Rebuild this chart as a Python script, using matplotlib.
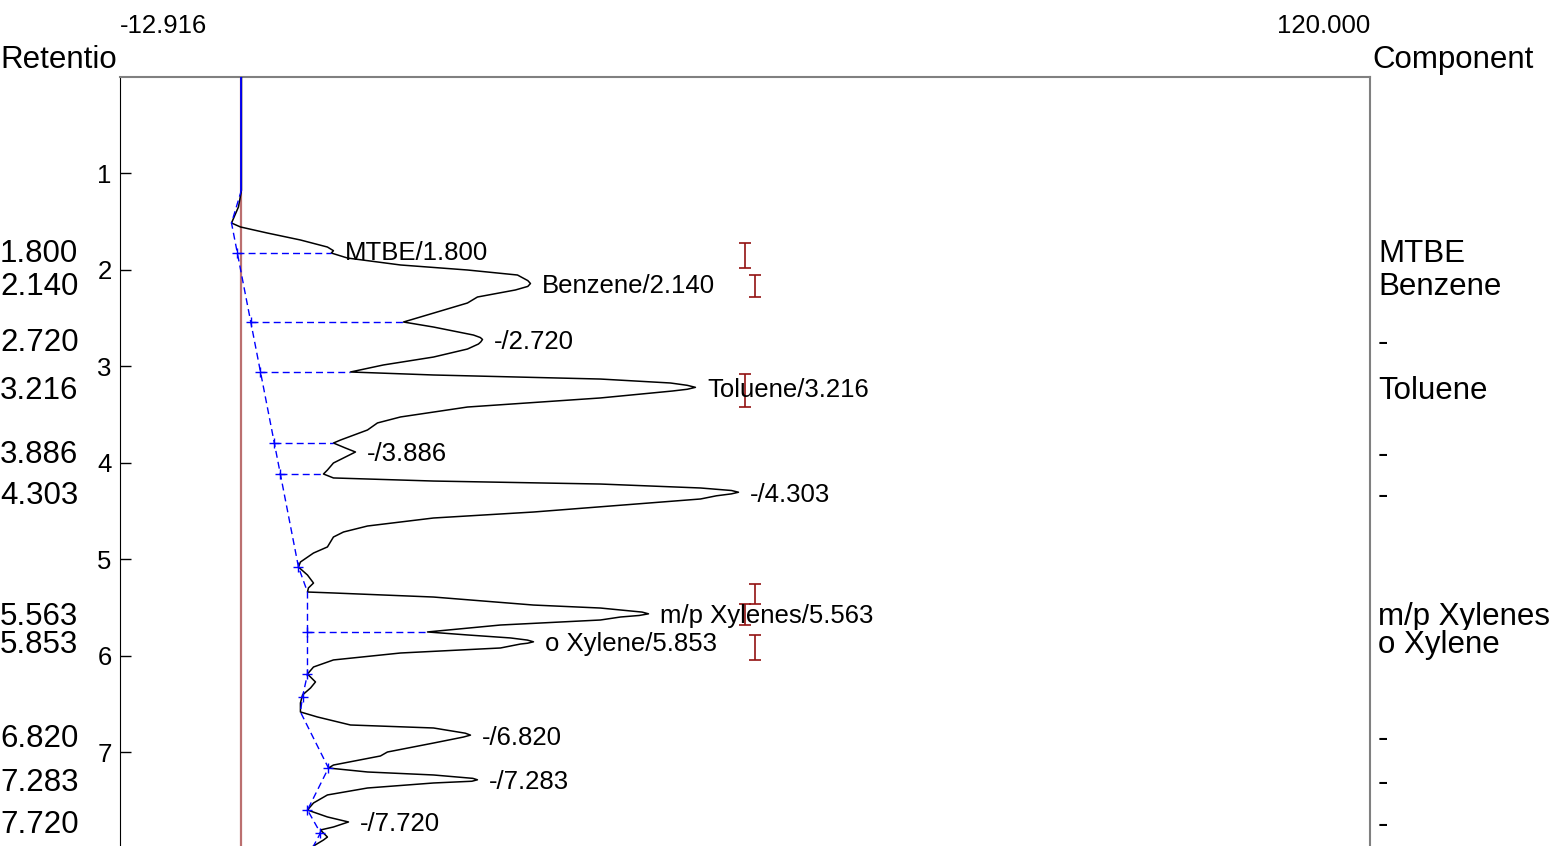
import matplotlib
matplotlib.use("Agg")
import matplotlib.pyplot as plt
import numpy as np
from matplotlib.transforms import blended_transform_factory

plt.rcParams['font.family'] = ['Liberation Sans', 'DejaVu Sans']

# signal range and time window
sig_min, sig_max = -12.916, 120.000
t_top, t_bottom = 0.0, 7.969

# identified peaks
peak_names = ["MTBE", "Benzene", "-", "Toluene", "-", "-",
              "m/p Xylenes", "o Xylene", "-", "-", "-"]
peak_rt = [1.800, 2.140, 2.720, 3.216, 3.886, 4.303, 5.563, 5.853, 6.820, 7.283, 7.720]
peak_height = [9.78, 30.73, 25.63, 48.27, 12.12, 52.85, 43.28, 31.05, 24.35, 25.09, 11.38]

# detector trace between the apexes
trace_t = [0.000, 1.171, 1.202, 1.347, 1.513, 1.554, 1.617, 1.689, 1.762, 1.824,
           1.876, 1.948, 2.000, 2.052, 2.110, 2.170, 2.207, 2.280, 2.342, 2.446,
           2.539, 2.591, 2.674, 2.700, 2.745, 2.767, 2.819, 2.902, 2.984, 3.057,
           3.088, 3.130, 3.171, 3.195, 3.236, 3.254, 3.326, 3.420, 3.523, 3.585,
           3.658, 3.762, 3.793, 3.845, 3.948, 4.000, 4.073, 4.114, 4.155, 4.187,
           4.218, 4.259, 4.285, 4.320, 4.340, 4.373, 4.508, 4.570, 4.653, 4.715,
           4.767, 4.870, 4.933, 5.026, 5.078, 5.161, 5.244, 5.295, 5.337, 5.347,
           5.389, 5.472, 5.503, 5.545, 5.580, 5.596, 5.627, 5.679, 5.751, 5.782,
           5.813, 5.835, 5.868, 5.876, 5.917, 5.969, 6.041, 6.114, 6.187, 6.269,
           6.332, 6.404, 6.487, 6.580, 6.632, 6.715, 6.746, 6.800, 6.840, 6.902,
           6.995, 7.036, 7.130, 7.161, 7.202, 7.233, 7.268, 7.298, 7.316, 7.368,
           7.440, 7.523, 7.596, 7.668, 7.772, 7.803, 7.876, 7.907, 7.969]
trace_s = [0.00, 0.00, -0.05, -0.32, -1.06, -0.11, 2.76, 6.27, 9.14, 9.55,
           11.27, 16.91, 24.03, 29.35, 30.45, 30.45, 29.13, 25.09, 24.03, 20.42,
           17.23, 20.42, 24.67, 25.40, 25.45, 25.20, 24.03, 20.42, 15.10, 11.59,
           20.42, 38.17, 45.62, 47.40, 47.40, 45.83, 38.17, 24.03, 16.91, 14.46,
           13.40, 10.53, 9.78, 11.06, 10.85, 9.78, 9.14, 8.72, 9.78, 20.42,
           38.17, 48.81, 52.10, 52.10, 50.50, 48.81, 31.05, 20.42, 13.40, 10.85,
           9.78, 9.14, 7.66, 6.27, 6.06, 7.02, 7.66, 7.12, 7.02, 9.78,
           20.42, 31.05, 38.17, 42.60, 42.30, 40.30, 38.17, 27.54, 19.78, 24.03,
           28.60, 30.40, 30.40, 29.67, 27.54, 16.91, 9.78, 7.66, 7.02, 7.87,
           7.34, 6.49, 6.27, 6.27, 8.08, 11.59, 20.42, 23.80, 23.60, 20.42,
           15.52, 14.78, 9.78, 9.25, 13.40, 20.42, 24.60, 24.50, 20.42, 13.40,
           9.14, 7.66, 7.02, 9.14, 9.78, 8.40, 9.14, 8.72, 7.66]

# integration baseline knots
base_t = [1.171, 1.513, 5.078, 5.337, 6.187, 6.425, 6.580, 7.161, 7.596, 7.834, 7.969]
base_s = [0.00, -1.06, 6.06, 7.02, 7.02, 6.49, 6.27, 9.25, 7.02, 8.40, 7.66]
mark_t = [5.078, 6.187, 6.425, 7.161, 7.596, 7.834]

# valleys that are dropped onto the baseline
drop_t = [1.824, 2.539, 3.057, 3.793, 4.114, 5.751]
drop_s = [9.55, 17.23, 11.59, 9.78, 8.72, 19.78]

# expected retention windows
win_t = [1.850, 2.166, 3.249, 5.358, 5.570, 5.912]
win_half = [0.130, 0.114, 0.171, 0.104, 0.109, 0.130]
win_s = [53.49, 54.65, 53.59, 54.65, 53.59, 54.65]

# merge apexes into the trace
t_all = np.concatenate([trace_t, peak_rt])
s_all = np.concatenate([trace_s, peak_height])
order = np.argsort(t_all)
t_all, s_all = t_all[order], s_all[order]

W, H = 1557, 846
fig = plt.figure(figsize=(W / 100, H / 100), dpi=100)
ax = fig.add_axes([120 / W, 0, 1250 / W, 769 / H])
ax.set_xlim(sig_min, sig_max)
ax.set_ylim(t_bottom, t_top)

ax.axvline(0, color='#bb6f6f', lw=1.6, zorder=1)
ax.plot(s_all, t_all, color='black', lw=1.1, zorder=3)

# baseline and drop lines
ax.plot([0, 0], [t_top, base_t[0]], color='blue', lw=1.3, zorder=4)
ax.plot(base_s, base_t, color='blue', lw=1.0, ls=(0, (5, 3)), zorder=4)
drop_base = np.interp(drop_t, base_t, base_s)
ax.hlines(drop_t, drop_base, drop_s, colors='blue', lw=1.0, linestyles=(0, (5, 3)), zorder=4)
mk_t = np.concatenate([drop_t, mark_t])
ax.plot(np.interp(mk_t, base_t, base_s), mk_t, ls='none', marker='+', ms=7,
        mew=1.0, color='blue', zorder=5)

ax.errorbar(win_s, win_t, yerr=win_half, fmt='none', ecolor='#921212',
            elinewidth=1.2, capsize=4.3, capthick=1.2, zorder=2)

for name, rt, h in zip(peak_names, peak_rt, peak_height):
    ax.annotate(f"{name}/{rt:.3f}", xy=(h, rt), xytext=(8.5, 0),
                textcoords='offset points', va='center_baseline', ha='left',
                fontsize=18.5)

trans = blended_transform_factory(fig.transFigure, ax.transData)
box = dict(facecolor='white', edgecolor='none', pad=0)
for name, rt in zip(peak_names, peak_rt):
    ax.text(0.0, rt, f"{rt:.3f}", transform=trans, ha='left', va='center_baseline',
            fontsize=22.5, bbox=box)
    ax.text(1378 / W, rt, name, transform=trans, ha='left', va='center_baseline',
            fontsize=22.5, bbox=box)

fig.text(120 / W, 1 - 33 / H, f"{sig_min:.3f}", ha='left', va='baseline', fontsize=18.5)
fig.text(1370 / W, 1 - 33 / H, f"{sig_max:.3f}", ha='right', va='baseline', fontsize=18.5)
fig.text(0.0, 1 - 68 / H, "Retentio", ha='left', va='baseline', fontsize=22.5)
fig.text(1372 / W, 1 - 68 / H, "Component", ha='left', va='baseline', fontsize=22.5)

ax.set_xticks([])
ax.set_yticks(range(1, 8))
ax.tick_params(axis='y', direction='in', length=8, width=1, pad=6, labelsize=18.5)
ax.spines['bottom'].set_visible(False)
ax.spines['left'].set_color('black')
for side in ('top', 'right'):
    ax.spines[side].set_color('#808080')
    ax.spines[side].set_linewidth(1.5)

fig.savefig('out.png', dpi=100)
